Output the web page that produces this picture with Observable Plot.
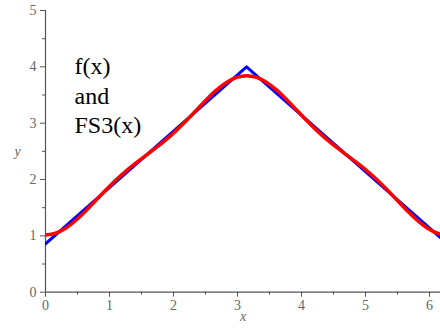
<!DOCTYPE html>
<html>
<head>
<meta charset="utf-8">
<script src="https://cdn.jsdelivr.net/npm/d3@7"></script>
<script src="https://cdn.jsdelivr.net/npm/@observablehq/plot@0.6"></script>
<style>
  html, body { margin: 0; padding: 0; background: #fff; }
  #chart svg, #chart svg text { font-family: "Liberation Serif", "Times New Roman", Times, serif !important; }
</style>
</head>
<body>
<div id="chart"></div>
<script>
// f(x): triangle wave vertices
const fX = [0, 3.1416, 6.2832];
const fY = [0.858, 4.0, 0.858];

// FS3(x): values
const fsX = [0, 0.157, 0.314, 0.471, 0.628, 0.785, 0.942, 1.100, 1.257, 1.414, 1.571,
  1.728, 1.885, 2.042, 2.199, 2.356, 2.513, 2.670, 2.827, 2.985, 3.142,
  3.299, 3.456, 3.613, 3.770, 3.927, 4.084, 4.241, 4.398, 4.555, 4.712,
  4.869, 5.027, 5.184, 5.341, 5.498, 5.655, 5.812, 5.969, 6.126, 6.283];
const fsY = [1.015, 1.046, 1.135, 1.273, 1.443, 1.629, 1.815, 1.991, 2.150, 2.294, 2.429,
  2.564, 2.708, 2.868, 3.043, 3.230, 3.416, 3.586, 3.723, 3.813, 3.844,
  3.813, 3.723, 3.586, 3.416, 3.230, 3.043, 2.868, 2.708, 2.564, 2.429,
  2.294, 2.150, 1.991, 1.815, 1.629, 1.443, 1.273, 1.135, 1.046, 1.015];

const xTicks = [0, 1, 2, 3, 4, 5, 6];
const xMinor = [0.5, 1.5, 2.5, 3.5, 4.5, 5.5];
const yTicks = [0, 1, 2, 3, 4, 5];
const yMinor = [0.5, 1.5, 2.5, 3.5, 4.5];

const fData = fX.map((x, i) => ({x, y: fY[i]}));
const fsData = fsX.map((x, i) => ({x, y: fsY[i]}));

const serif = "Liberation Serif";
const tickColor = "#666";
const lineColor = "#555";

const chart = Plot.plot({
  width: 440,
  height: 328,
  marginLeft: 45,
  marginRight: 0,
  marginTop: 10,
  marginBottom: 36.3,
  style: {fontFamily: serif, fontSize: "14px", background: "#fff"},
  x: {domain: [0, 6.172]},
  y: {domain: [0, 5]},
  marks: [
    Plot.ruleX([0], {stroke: lineColor, strokeWidth: 1.2}),
    Plot.ruleY([0], {stroke: lineColor, strokeWidth: 1.2}),
    Plot.axisX({ticks: xTicks, tickSize: 5, tickPadding: 3, stroke: lineColor, color: tickColor, fontSize: 14, label: null, tickFormat: d => String(d)}),
    Plot.axisX({ticks: xMinor, tickSize: 3, stroke: lineColor, text: null, label: null}),
    Plot.axisY({ticks: yTicks, tickSize: 5, tickPadding: 4, stroke: lineColor, color: tickColor, fontSize: 14, label: null, tickFormat: d => String(d)}),
    Plot.axisY({ticks: yMinor, tickSize: 3, stroke: lineColor, text: null, label: null}),
    Plot.line(fData, {x: "x", y: "y", stroke: "#0000ff", strokeWidth: 3, clip: true}),
    Plot.line(fsData, {x: "x", y: "y", stroke: "#ff0000", strokeWidth: 3.5, curve: "catmull-rom", clip: true}),
    Plot.text(["f(x)\nand\nFS3(x)"], {frameAnchor: "top-left", dx: 29, dy: 43, lineAnchor: "top", textAnchor: "start", lineHeight: 1.23, fontSize: 24, fill: "#000", fontFamily: serif}),
    Plot.text(["y"], {frameAnchor: "left", dx: -31, fontStyle: "italic", fill: tickColor, fontSize: 14, fontFamily: serif}),
    Plot.text(["x"], {frameAnchor: "bottom", dy: 29, fontStyle: "italic", fill: tickColor, fontSize: 14, fontFamily: serif})
  ]
});
document.getElementById("chart").appendChild(chart);
</script>
</body>
</html>
